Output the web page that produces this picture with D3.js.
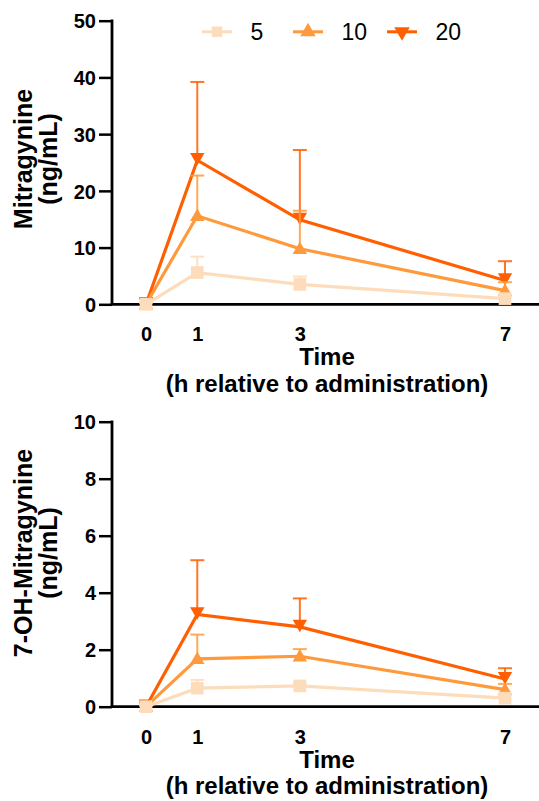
<!DOCTYPE html>
<html><head><meta charset="utf-8">
<script src="https://cdn.jsdelivr.net/npm/d3@7"></script>
<style>body{margin:0;background:#fff}svg{display:block}text{font-family:"Liberation Sans",Arial,sans-serif}</style>
</head><body><svg id="c" width="539" height="801"></svg>
<script>
const times = [0, 1, 3, 7];
const doses = ["5", "10", "20"];
const colors = ["#FDDCBB", "#FF9A3C", "#FF5F00"];
const shapes = ["square", "up", "down"];
// Mitragynine (ng/mL): mean and upper SD
const mit5 = [0, 5.6, 3.5, 1.0];
const mit5sd = [0.3, 2.8, 1.4, 0.4];
const mit10 = [0, 15.6, 9.8, 2.4];
const mit10sd = [0.3, 7.1, 6.7, 1.5];
const mit20 = [0, 25.4, 14.9, 4.2];
const mit20sd = [1.0, 13.8, 12.3, 3.4];
// 7-OH-Mitragynine (ng/mL)
const oh5 = [0, 0.65, 0.73, 0.3];
const oh5sd = [0.05, 0.29, 0.1, 0.1];
const oh10 = [0, 1.68, 1.77, 0.6];
const oh10sd = [0.05, 0.85, 0.25, 0.2];
const oh20 = [0, 3.24, 2.8, 0.97];
const oh20sd = [0.15, 1.9, 1.0, 0.38];
const topTicks = [0, 10, 20, 30, 40, 50];
const botTicks = [0, 2, 4, 6, 8, 10];
const xTickVals = [0, 1, 3, 7];

const svg = d3.select("#c");
const x = d3.scaleLinear().domain([0, 7]).range([146, 505]);
const axisX0 = 112, axisX1 = 539;

function symbolFor(s, big) {
  if (s === "square") return d3.symbol().type(d3.symbolSquare).size(big ? 110 : 160)();
  return d3.symbol().type(d3.symbolTriangle).size(big ? 104 : 90)();
}

function panel(yTop, yBot, maxV, ticks, series, title, titleCenterY) {
  const y = d3.scaleLinear().domain([0, maxV]).range([yBot, yTop]);
  const g = svg.append("g");
  // y axis
  const ya = g.append("g").attr("transform", `translate(${axisX0},0)`)
    .call(d3.axisLeft(y).tickValues(ticks).tickSize(13).tickPadding(3).tickFormat(d3.format("d")));
  ya.select(".domain").remove();
  ya.selectAll(".tick line").attr("stroke", "#000").attr("stroke-width", 2.5);
  ya.selectAll(".tick text").attr("font-size", 20).attr("font-weight", "bold").attr("fill", "#000")
    .attr("dy", "0.36em");
  g.append("line").attr("x1", axisX0).attr("x2", axisX0).attr("y1", y(maxV) - 1.25).attr("y2", yBot)
    .attr("stroke", "#000").attr("stroke-width", 2.8);
  // x axis
  g.append("line").attr("x1", axisX0 - 1.4).attr("x2", axisX1).attr("y1", yBot).attr("y2", yBot)
    .attr("stroke", "#000").attr("stroke-width", 2.8);
  const xa = g.append("g").attr("transform", `translate(0,${yBot})`)
    .call(d3.axisBottom(x).tickValues(xTickVals).tickSize(0).tickPadding(0).tickFormat(d3.format("d")));
  xa.select(".domain").remove();
  xa.selectAll(".tick text").attr("font-size", 20).attr("font-weight", "bold").attr("fill", "#000")
    .attr("y", 37).attr("dy", 0);
  // x title
  g.append("text").attr("x", 327).attr("y", yBot + 61).attr("text-anchor", "middle")
    .attr("font-size", 24).attr("font-weight", "bold").text("Time");
  g.append("text").attr("x", 327).attr("y", yBot + 87.5).attr("text-anchor", "middle")
    .attr("font-size", 24).attr("font-weight", "bold").text("(h relative to administration)");
  // y title
  const yt = g.append("text").attr("transform", `translate(0,${titleCenterY}) rotate(-90)`)
    .attr("text-anchor", "middle").attr("font-size", 25).attr("font-weight", "bold");
  yt.append("tspan").attr("x", 0).attr("y", 32).text(title);
  yt.append("tspan").attr("x", 0).attr("y", 56.5).text("(ng/mL)");
  // series, drawn 20 first, then 10, then 5
  const line = d3.line().x((d, i) => x(times[i])).y(d => y(d));
  [2, 1, 0].forEach(k => {
    const s = series[k];
    const c = colors[k];
    const sg = g.append("g");
    s.mean.forEach((m, i) => {
      const top = m + s.sd[i];
      sg.append("line").attr("x1", x(times[i])).attr("x2", x(times[i]))
        .attr("y1", y(m)).attr("y2", y(top)).attr("stroke", c).attr("stroke-width", 2).attr("stroke-opacity", 0.85);
      sg.append("line").attr("x1", x(times[i]) - 7).attr("x2", x(times[i]) + 7)
        .attr("y1", y(top)).attr("y2", y(top)).attr("stroke", c).attr("stroke-width", 2).attr("stroke-opacity", 0.85);
    });
    sg.append("path").attr("d", line(s.mean)).attr("fill", "none").attr("stroke", c).attr("stroke-width", 3.2);
    s.mean.forEach((m, i) => {
      const rot = shapes[k] === "down" ? 180 : 0;
      const dy = shapes[k] === "down" ? -3 : (shapes[k] === "up" ? 1 : 0);
      sg.append("path").attr("d", symbolFor(shapes[k], false))
        .attr("transform", `translate(${x(times[i])},${y(m) + dy}) rotate(${rot})`).attr("fill", c);
    });
  });
}

panel(20.7, 304.3, 50, topTicks, [
  {mean: mit5, sd: mit5sd}, {mean: mit10, sd: mit10sd}, {mean: mit20, sd: mit20sd}
], "Mitragynine", 159);
panel(421.7, 706.7, 10, botTicks, [
  {mean: oh5, sd: oh5sd}, {mean: oh10, sd: oh10sd}, {mean: oh20, sd: oh20sd}
], "7-OH-Mitragynine", 553);

// legend
const legX = [202, 293, 387];
const legG = svg.append("g");
doses.forEach((d, k) => {
  const lx = legX[k], ly = 31.8;
  legG.append("line").attr("x1", lx).attr("x2", lx + 30).attr("y1", ly).attr("y2", ly)
    .attr("stroke", colors[k]).attr("stroke-width", 3);
  const rot = shapes[k] === "down" ? 180 : 0;
  legG.append("path").attr("d", symbolFor(shapes[k], true))
    .attr("transform", `translate(${lx + 15},${ly}) rotate(${rot})`).attr("fill", colors[k]);
  legG.append("text").attr("x", lx + 48.5).attr("y", ly + 8.3).attr("font-size", 23).attr("fill", "#000").text(d);
});
</script></body></html>
